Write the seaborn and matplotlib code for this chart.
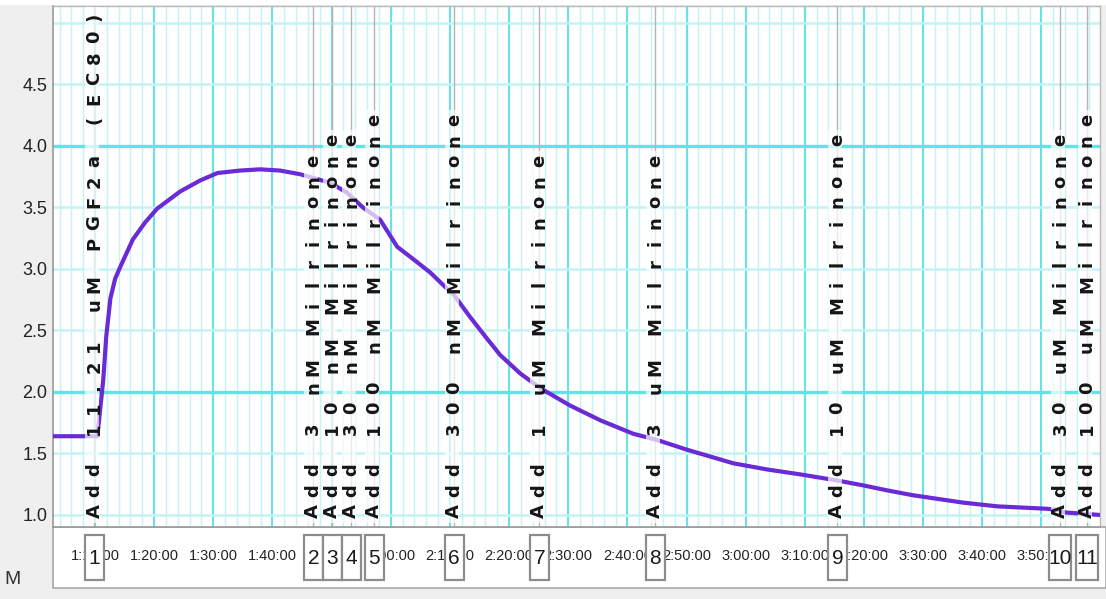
import matplotlib
matplotlib.use("Agg")
import matplotlib.pyplot as plt
import seaborn as sns
from matplotlib.patches import Rectangle
from matplotlib.transforms import offset_copy

# trace: clock time in minutes, tension
trace_min = [62.9, 69.5, 70.4, 71.4, 71.9, 72.6, 73.4, 74.3, 76.4, 78.5,
             80.5, 84.4, 87.8, 90.7, 94.5, 97.9, 101.3, 104.7, 106.9, 109.8,
             112.6, 115.3, 118.2, 121.1, 123.8, 126.7, 129.5, 130.5, 133.4, 136.0,
             138.5, 141.9, 145.3, 150.3, 155.4, 161.0, 165.0, 170.1, 177.9, 183.6,
             189.2, 195.5, 199.9, 203.9, 208.3, 216.8, 222.5, 231.0, 232.8, 234.0,
             239.9]
trace_val = [1.64, 1.64, 1.64, 2.10, 2.45, 2.76, 2.92, 3.02, 3.24, 3.38,
             3.49, 3.63, 3.72, 3.78, 3.80, 3.81, 3.80, 3.77, 3.74, 3.70,
             3.62, 3.50, 3.40, 3.18, 3.08, 2.97, 2.84, 2.80, 2.61, 2.45,
             2.30, 2.15, 2.03, 1.89, 1.77, 1.66, 1.61, 1.53, 1.42, 1.37,
             1.33, 1.28, 1.24, 1.20, 1.16, 1.10, 1.07, 1.05, 1.04, 1.02,
             1.00]

# comments / drug additions
event_min = [69.9, 106.9, 110.1, 113.3, 117.2, 130.7, 145.1, 164.7, 195.5, 233.2, 237.7]
event_num = ["1", "2", "3", "4", "5", "6", "7", "8", "9", "10", "11"]
event_text = ["Add 11.21 uM PGF2a (EC80)", "Add 3 nM Milrinone", "Add 10 nM Milrinone",
              "Add 30 nM Milrinone", "Add 100 nM Milrinone", "Add 300 nM Milrinone",
              "Add 1 uM Milrinone", "Add 3 uM Milrinone", "Add 10 uM Milrinone",
              "Add 30 uM Milrinone", "Add 100 uM Milrinone"]

xtick_min = [70, 80, 90, 100, 110, 120, 130, 140, 150, 160, 170, 180, 190, 200, 210, 220, 230]
xtick_labels = ["1:10:00", "1:20:00", "1:30:00", "1:40:00", "1:50:00", "2:00:00", "2:10:00",
                "2:20:00", "2:30:00", "2:40:00", "2:50:00", "3:00:00", "3:10:00", "3:20:00",
                "3:30:00", "3:40:00", "3:50:00"]
xminor_min = list(range(64, 240, 2))
ytick_val = [1.0, 1.5, 2.0, 2.5, 3.0, 3.5, 4.0, 4.5, 5.0]
ytick_labels = ["1.0", "1.5", "2.0", "2.5", "3.0", "3.5", "4.0", "4.5", ""]
ybright = [2.0, 4.0]

LINE = "#6a2ad6"
CYAN = "#62e3e9"
CYAN_LT = "#c4f3f6"

sns.set_style("white")
plt.rcParams["font.family"] = ["Liberation Sans", "DejaVu Sans"]

W, H = 1106, 599
fig = plt.figure(figsize=(W / 100, H / 100), dpi=100, facecolor="#efefef")
ax = fig.add_axes([53 / W, (H - 527) / H, (1100 - 53) / W, (527 - 6) / H])
ax.set_facecolor("white")

xlim = (62.9, 239.9)
ylim = (0.902, 5.138)
ax.set_xlim(*xlim)
ax.set_ylim(*ylim)
ax_w = 1047
ax_h = 521
ppm = ax_w / (xlim[1] - xlim[0])  # pixels per minute

# grid
ax.set_xticks(xtick_min, xtick_labels)
ax.set_xticks(xminor_min, minor=True)
ax.set_yticks(ytick_val, ytick_labels)
ax.grid(False)
for m in xminor_min:
    ax.axvline(m, color=CYAN_LT, lw=1.0, zorder=0.5)
for m in xtick_min + [60, 240]:
    ax.axvline(m, color=CYAN, lw=1.4, zorder=0.6)
for v in ytick_val:
    bright = v in ybright
    ax.axhline(v, color=CYAN if bright else CYAN_LT, lw=2.4 if bright else 1.8, zorder=0.7)

# event lines
for t in event_min:
    ax.axvline(t, color="#b4b4b4", lw=1.0, zorder=1)

sns.lineplot(x=trace_min, y=trace_val, ax=ax, color=LINE, lw=3.0, zorder=3)

# event comments, drawn one character per slot like the recorder does
step = 20.6
y0 = (527 - 511) / ax_h
base_tr = ax.get_xaxis_transform()
for t, txt in zip(event_min, event_text):
    top = y0 + (len(txt) - 1) * step / ax_h + 10 / ax_h
    ax.axvline(t - 2 / ppm, ymin=0.008, ymax=top, color="white", alpha=0.7,
               lw=10, zorder=4, solid_capstyle="butt")
    for i, ch in enumerate(txt):
        if ch == " ":
            continue
        tr = offset_copy(base_tr, fig=fig, x=5, y=i * step, units="dots")
        ax.text(t, y0, ch, transform=tr, rotation=90, rotation_mode="anchor",
                ha="center", va="baseline", fontsize=13, fontweight="bold",
                color="#151515", family=["DejaVu Sans"], zorder=5)

# numbered boxes over the time axis
for t, n in zip(event_min, event_num):
    w = (22 if len(n) > 1 else 19) / ppm
    ax.add_patch(Rectangle((t - w / 2, -(580 - 527) / ax_h), w, 45 / ax_h,
                           transform=base_tr, clip_on=False, facecolor="white",
                           edgecolor="#8c8c8c", lw=1.6, zorder=10))
    ax.text(t, -(558 - 527) / ax_h, n, transform=base_tr, ha="center", va="center",
            fontsize=15, color="#1a1a1a", clip_on=False, zorder=11)

# axes styling
for side in ["left", "bottom"]:
    ax.spines[side].set_color("#9a9a9a")
    ax.spines[side].set_linewidth(1.2)
for side in ["top", "right"]:
    ax.spines[side].set_color("#b8b8b8")
    ax.spines[side].set_linewidth(1.0)
ax.tick_params(axis="x", which="major", direction="out", length=5, width=1,
               color="#555555", pad=11, labelsize=10.5, labelcolor="#222222")
ax.tick_params(axis="x", which="minor", direction="out", length=3, width=1,
               color="#777777")
ax.tick_params(axis="y", direction="out", length=2, width=2.2, color="#333333",
               pad=2, labelsize=13, labelcolor="#222222")
ax.set_xlabel("")
ax.set_ylabel("")

# window furniture around the plot
fig.add_artist(Rectangle((53 / W, (H - 588) / H), (W - 53) / W, 61 / H,
                         transform=fig.transFigure, facecolor="white",
                         edgecolor="#a8a8a8", lw=1.2, zorder=-1))
fig.add_artist(Rectangle((0, (H - 5) / H), 1, 5 / H, transform=fig.transFigure,
                         facecolor="white", edgecolor="none", zorder=-1))
fig.text(4 / W, (H - 580) / H, "M", fontsize=14, color="#333333", va="center", ha="left")

fig.savefig("out.png", dpi=100, facecolor=fig.get_facecolor())
